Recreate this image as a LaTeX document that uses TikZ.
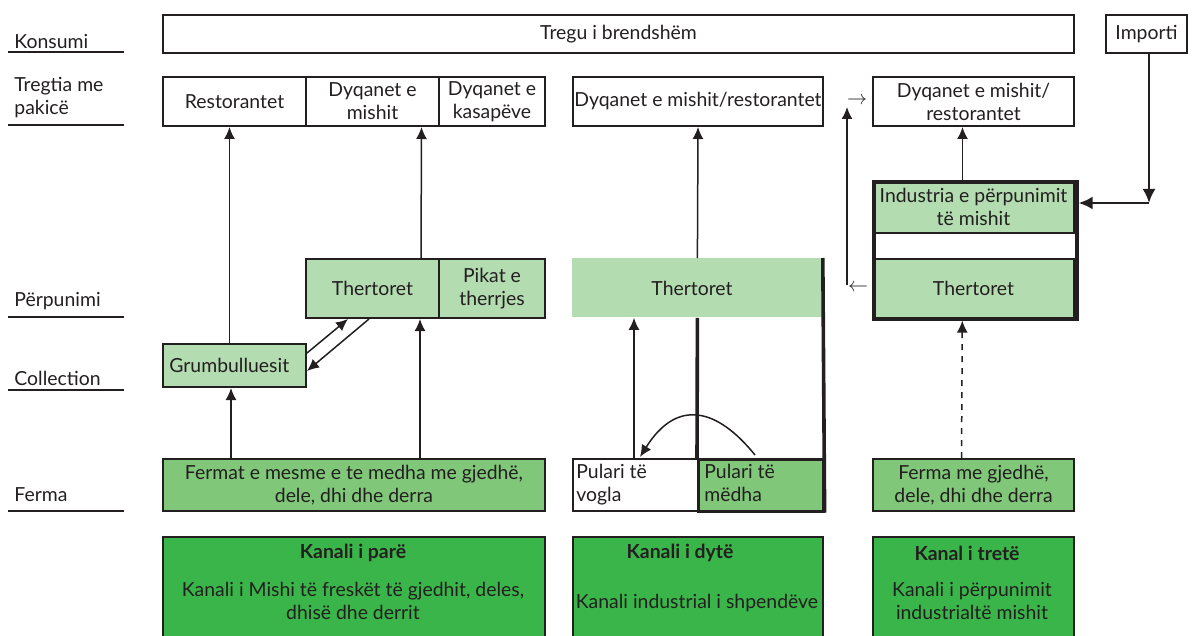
\documentclass[tikz,border=0pt]{standalone}
\usepackage{fontspec}
\setmainfont{Lato}
\usetikzlibrary{arrows.meta,calc}
\definecolor{bc}{HTML}{231F20}
\definecolor{lg}{HTML}{B3DCB0}
\definecolor{mg}{HTML}{80C77A}
\definecolor{dg}{HTML}{3AB54A}
\tikzset{
  geo/.style n args={4}{anchor=north west,minimum width={(#3-#1)*0.5pt},minimum height={(#4-#2)*0.5pt}},
  box/.style={draw=bc,line width=1pt,inner sep=0pt,align=center,font=\fontsize{9.7}{11.5}\selectfont,text=bc},
  lbl/.style={anchor=west,inner sep=0pt,align=left,font=\fontsize{9.7}{11.5}\selectfont,text=bc},
  txt/.style={inner sep=0pt,align=center,font=\fontsize{9.7}{11.5}\selectfont,text=bc},
  btxt/.style={txt,font=\fontsize{9.7}{11.5}\selectfont\bfseries},
  uline/.style={draw=bc,line width=1pt},
  arr/.style={draw=bc,line width=0.75pt,-{Latex[length=6pt,width=5.5pt]}},
  thick arr/.style={draw=bc,line width=1.2pt,-{Latex[length=7pt,width=6.5pt]}},
}
\begin{document}
\begin{tikzpicture}[x=0.5pt,y=-0.5pt]
\useasboundingbox (0,0) rectangle (1192,636);
% left labels
\node[lbl] (l1) at (14,42) {Konsumi};
\node[lbl] (l2) at (14,98) {Tregtia me\\pakicë};
\node[lbl] (l3) at (14,301) {Përpunimi};
\node[lbl] (l4) at (14,378) {Collection};
\node[lbl] (l5) at (14,495) {Ferma};
\coordinate (u1a) at (8,52);  \coordinate (u1b) at (124,52);
\coordinate (u2a) at (8,125); \coordinate (u2b) at (124,125);
\coordinate (u3a) at (8,317); \coordinate (u3b) at (124,317);
\coordinate (u4a) at (8,390); \coordinate (u4b) at (124,390);
\coordinate (u5a) at (8,511); \coordinate (u5b) at (124,511);
\draw[uline] (u1a) -- (u1b); \draw[uline] (u2a) -- (u2b); \draw[uline] (u3a) -- (u3b);
\draw[uline] (u4a) -- (u4b); \draw[uline] (u5a) -- (u5b);

% top row
\node[box,geo={162}{14}{1073}{52}] (tregu) at (162,14) {Tregu i brendshëm};
\node[box,geo={1105}{14}{1186}{52}] (imp) at (1105,14) {Importi};

% channel 1
\node[box,geo={162}{76}{305}{125}] (rest) at (162,76) {Restorantet};
\node[box,geo={305}{76}{438}{125}] (dm1) at (305,76) {Dyqanet e\\mishit};
\node[box,geo={438}{76}{544}{125}] (dk) at (438,76) {Dyqanet e\\kasapëve};
\node[box,fill=lg,geo={305}{258}{438}{317}] (th1) at (305,258) {Thertoret};
\node[box,fill=lg,geo={438}{258}{544}{317}] (pik) at (438,258) {Pikat e\\therrjes};
\node[box,fill=lg,geo={162}{343}{305}{386}] (gr) at (162,343) {};
\node[txt,anchor=west] (grt) at (169,365) {Grumbulluesit};
\node[box,fill=mg,geo={162}{458}{544}{510}] (f1) at (162,458) {Fermat e mesme e te medha me gjedhë,\\dele, dhi dhe derra};
\node[box,fill=dg,geo={162}{536}{544}{640}] (k1) at (162,536) {};
\node[btxt] (k1t) at (353,553) {Kanali i parë};
\node[txt] (k1b) at (353,601) {Kanali i Mishi të freskët të gjedhit, deles,\\dhisë dhe derrit};

\draw[arr] ($(gr.north)+(-5,0)$) -- ($(rest.south)+(-5,0)$);
\draw[arr] ($(th1.north)+(48.5,0)$) -- ($(dm1.south)+(49,0)$);
\draw[arr] ($(f1.north west)+(69,0)$) -- ($(gr.south west)+(69,0)$);
\draw[arr] ($(f1.north west)+(258,0)$) -- ($(th1.south west)+(115,0)$);
\draw[arr] ($(gr.north east)+(0,10)$) -- ($(th1.south west)+(43,0)$);
\draw[arr] ($(th1.south west)+(64,0)$) -- ($(gr.north east)+(0,28)$);

% channel 2
\node[box,geo={572}{76}{822}{125}] (dm2) at (572,76) {Dyqanet e mishit/restorantet};
\node[inner sep=0pt,fill=lg,geo={572}{258}{822}{317}] (th2) at (572,258) {};
\node[txt] (th2t) at (692,288) {Thertoret};
\node[box,fill=white,geo={572}{458}{697}{510}] (pv) at (572,458) {};
\node[txt,anchor=north west,align=left] (pvt) at (576,464) {Pulari të\\vogla};
\node[box,fill=mg,line width=1.3pt,geo={697}{458}{822}{510}] (pm) at (697,458) {};
\node[txt,anchor=north west,align=left] (pmt) at (704,464) {Pulari të\\mëdha};
\draw[bc,line width=1.8pt] (th2.north east) -- (pm.south east);
\draw[bc,line width=1.8pt] (th2.south) -- (pm.north west);
\node[box,fill=dg,geo={572}{536}{822}{640}] (k2) at (572,536) {};
\node[btxt] (k2t) at (680,553) {Kanali i dytë};
\node[txt] (k2b) at (697,603) {Kanali industrial i shpendëve};

\draw[arr] (th2.north) -- (dm2.south);
\draw[arr] ($(pv.north west)+(62,0)$) -- ($(th2.south west)+(62,0)$);
\draw[arr] ($(pm.north west)+(58,-3)$) .. controls ($(pm.north west)+(20,-50)$) and ($(pm.north west)+(-20,-60)$) .. ($(pv.north west)+(68,-1)$);

% channel 3
\node[box,geo={872}{76}{1073}{125}] (dm3) at (872,76) {Dyqanet e mishit/\\restorantet};
\node[box,fill=lg,geo={872}{180}{1073}{232}] (ind) at (872,180) {Industria e përpunimit\\të mishit};
\node[box,fill=lg,geo={872}{258}{1073}{317}] (th3) at (872,258) {Thertoret};
\node[draw=bc,line width=1.8pt,inner sep=0pt,geo={872}{180}{1075}{317}] (outer3) at (872,180) {};
\node[box,fill=mg,geo={872}{458}{1073}{510}] (f3) at (872,458) {Ferma me gjedhë,\\dele, dhi dhe derra};
\node[box,fill=dg,geo={872}{536}{1073}{640}] (k3) at (872,536) {};
\node[btxt] (k3t) at (967,553) {Kanal i tretë};
\node[txt] (k3b) at (972,601) {Kanali i përpunimit\\industrialtë mishit};

\draw[arr] ($(ind.north)+(-11,0)$) -- ($(dm3.south)+(-11,0)$);
\draw[arr,dashed] ($(f3.north)+(-12,0)$) -- ($(outer3.south)+(-13,0)$);
\coordinate (corner) at (1149,203);
\draw[thick arr] (imp.south -| corner) -- (corner);
\draw[thick arr] (corner) -- (corner -| outer3.east);
\coordinate (vb) at (847,285);
\coordinate (vt) at (847,107);
\draw[arr] (vb) -- (vt);
\node[txt] (ra) at (857,101) {$\rightarrow$};
\node[txt] (la) at (858,288) {$\leftarrow$};
\end{tikzpicture}
\end{document}
